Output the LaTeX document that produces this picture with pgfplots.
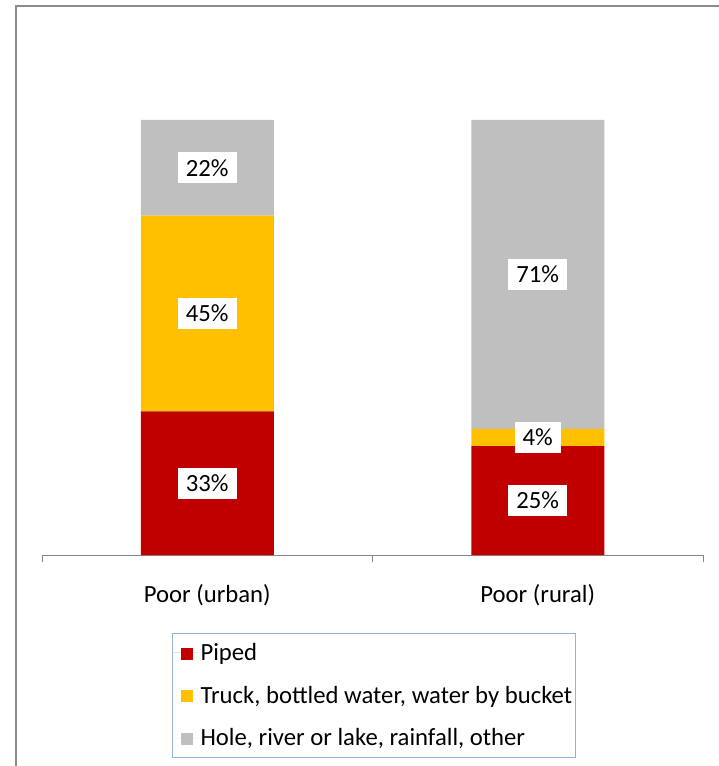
\documentclass[border=0pt]{standalone}
\usepackage{pgfplots}
\pgfplotsset{compat=1.18}
\usepackage{fontspec}
\setmainfont{Carlito}
\definecolor{piped}{HTML}{C00000}
\definecolor{truck}{HTML}{FFC000}
\definecolor{other}{HTML}{BFBFBF}
\definecolor{axisgray}{HTML}{868686}
\definecolor{framegray}{HTML}{8C8C8C}
\definecolor{legblue}{HTML}{95B3D7}
\newcommand\chartfont{\fontsize{24.7}{29}\selectfont}
\begin{document}
\begin{tikzpicture}
\useasboundingbox (0pt,0pt) rectangle (719pt,766pt);
% outer chart frame
\draw[line width=2pt, draw=framegray] (16pt,-5pt) -- (16pt,760pt) -- (725pt,760pt);
\begin{axis}[
  at={(42pt,211pt)}, anchor=south west,
  scale only axis, width=661pt, height=435pt,
  xmin=-0.5, xmax=1.5, ymin=0, ymax=100,
  clip=false,
  ybar stacked, bar width=133pt,
  axis y line=none, axis x line*=bottom,
  ytick=\empty,
  x axis line style={draw=axisgray, line width=1pt},
  xtick={-0.5,0.5,1.5}, xticklabels={},
  tick align=outside, major tick length=7pt,
  tick style={draw=axisgray, line width=1pt},
  extra x ticks={0,1},
  extra x tick labels={Poor (urban),Poor (rural)},
  extra x tick style={major tick length=0pt, tick style={draw=none},
    xticklabel style={yshift=-26pt}},
  ticklabel style={font=\chartfont, text=black},
  % value boxes sit in the middle of each segment
  lbl/.style={
    visualization depends on={value \thisrow{v} \as \val},
    nodes near coords={\val\%},
    every node near coord/.append style={anchor=center, fill=white,
      text=black, font=\chartfont,
      inner xsep=8pt, minimum height=31pt}},
  legend style={at={(0.1967,-0.1793)}, anchor=north west,
    draw=legblue, line width=1pt, font=\chartfont,
    inner xsep=1pt, inner ysep=8pt, row sep=20pt,
    legend cell align=left},
  legend image code/.code={
    \path (-7pt,0pt) -- (18pt,0pt);
    \fill[#1] (0pt,-7pt) rectangle (12pt,5pt);},
]
\addplot[fill=piped, draw=none, lbl] table[x=x, y=v] {
x v
0 33
1 25
};
\addlegendentry{Piped}
\addplot[fill=truck, draw=none, lbl] table[x=x, y=v] {
x v
0 45
1 4
};
\addlegendentry{Truck, bottled water, water by bucket}
\addplot[fill=other, draw=none, lbl] table[x=x, y=v] {
x v
0 22
1 71
};
\addlegendentry{Hole, river or lake, rainfall, other}
\end{axis}
\end{tikzpicture}
\end{document}
